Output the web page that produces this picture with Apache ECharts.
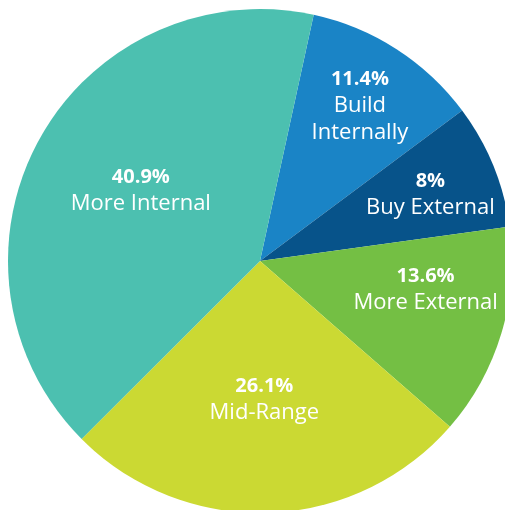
<!DOCTYPE html>
<html>
<head>
<meta charset="utf-8">
<script src="https://cdn.jsdelivr.net/npm/echarts@6/dist/echarts.min.js"></script>
<style>
  html, body { margin: 0; padding: 0; background: #ffffff; }
  #chart { width: 505px; height: 510px; }
</style>
</head>
<body>
<div id="chart"></div>
<script>
// Sourcing approach shares (percent), clockwise from the top
const categories = ['Build\nInternally', 'Buy External', 'More External', 'Mid-Range', 'More Internal'];
const shares = [11.4, 8, 13.6, 26.1, 40.9];
const colors = ['#1a84c6', '#07538a', '#74bf44', '#cbd933', '#4cc0b0'];
// small nudges so each label sits comfortably inside its slice
const labelOffsets = [[30, -46], [51, -17], [42, -8], [0, 10], [-6, -8]];

const chart = echarts.init(document.getElementById('chart'), null, { renderer: 'canvas' });

const data = categories.map((name, i) => ({
  name: name,
  value: shares[i],
  itemStyle: { color: colors[i] },
  label: { offset: labelOffsets[i] }
}));

chart.setOption({
  animation: false,
  series: [{
    type: 'pie',
    center: [260, 261],
    radius: [0, 252],
    startAngle: 77.7,
    clockwise: true,
    avoidLabelOverlap: false,
    itemStyle: { borderWidth: 0 },
    label: {
      show: true,
      position: 'inside',
      formatter: p => '{v|' + p.value + '%}\n{n|' + p.name + '}',
      color: '#ffffff',
      align: 'center',
      rich: {
        v: { fontFamily: 'Open Sans', fontWeight: 'bold', fontSize: 20, lineHeight: 26, color: '#ffffff', align: 'center' },
        n: { fontFamily: 'Open Sans', fontWeight: 'normal', fontSize: 22, lineHeight: 27, color: '#ffffff', align: 'center' }
      }
    },
    labelLine: { show: false },
    emphasis: { disabled: true },
    data: data
  }]
});
</script>
</body>
</html>
